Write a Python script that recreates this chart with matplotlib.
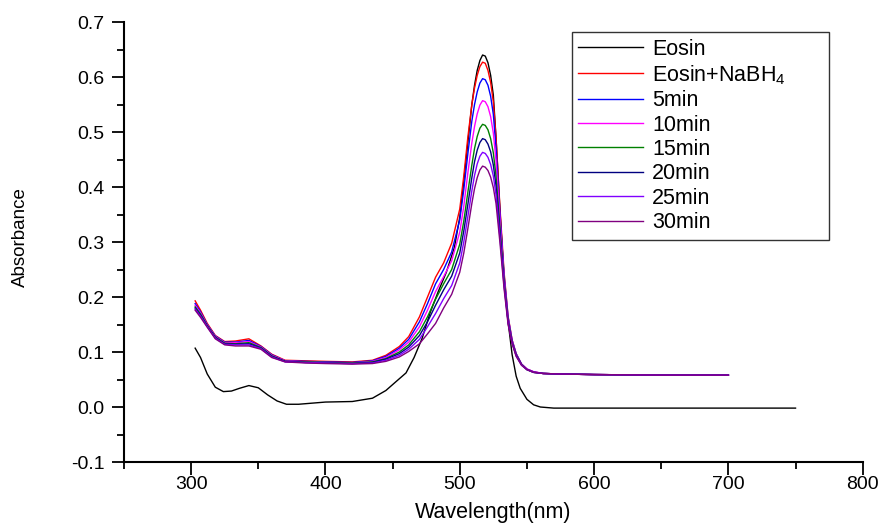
import matplotlib
matplotlib.use("Agg")
import matplotlib.pyplot as plt
from matplotlib.ticker import MultipleLocator, FormatStrFormatter

plt.rcParams['font.family'] = ['Liberation Sans', 'DejaVu Sans']
plt.rcParams['mathtext.fontset'] = 'custom'
plt.rcParams['mathtext.rm'] = 'Liberation Sans'
plt.rcParams['mathtext.it'] = 'Liberation Sans'

# Eosin alone
eosin_wl = [303, 307, 312, 318, 324, 330, 336, 343, 350, 357, 364, 371, 380, 400, 420, 435,
            445, 452, 460, 466, 472, 478, 484, 490, 496, 500, 503, 506, 509, 511, 513, 515,
            517, 519, 521, 523, 525, 527, 530, 533, 536, 539, 542, 545, 550, 555, 560, 570,
            600, 650, 700, 750]
eosin = [0.107, 0.090, 0.060, 0.036, 0.028, 0.029, 0.034, 0.039, 0.035, 0.022, 0.011, 0.005,
         0.005, 0.009, 0.010, 0.016, 0.030, 0.045, 0.062, 0.090, 0.125, 0.172, 0.210, 0.245,
         0.290, 0.345, 0.410, 0.480, 0.550, 0.585, 0.612, 0.630, 0.640, 0.638, 0.626, 0.603,
         0.567, 0.490, 0.355, 0.232, 0.155, 0.095, 0.056, 0.034, 0.014, 0.004, 0.000, -0.002,
         -0.002, -0.002, -0.002, -0.002]

# Eosin + NaBH4 series (common wavelength grid)
wl = [303, 307, 312, 318, 325, 333, 343, 352, 360, 370, 385, 400, 420, 435, 445, 455, 462,
      470, 476, 482, 488, 494, 500, 503, 506, 509, 511, 513, 515, 517, 519, 521, 523, 525,
      527, 530, 533, 536, 539, 542, 546, 550, 555, 562, 575, 600, 650, 700]

nabh4 = [0.193, 0.176, 0.152, 0.130, 0.119, 0.120, 0.124, 0.111, 0.096, 0.085, 0.084, 0.083,
         0.082, 0.085, 0.094, 0.110, 0.128, 0.164, 0.200, 0.236, 0.262, 0.298,
         0.360, 0.420, 0.490, 0.550, 0.580, 0.603, 0.619, 0.627, 0.625, 0.612, 0.590, 0.555,
         0.490, 0.360, 0.245, 0.165, 0.122, 0.097,
         0.078, 0.069, 0.064, 0.061, 0.060, 0.059, 0.058, 0.058]
min5 = [0.188, 0.173, 0.150, 0.129, 0.118, 0.118, 0.121, 0.110, 0.095, 0.084, 0.083, 0.082,
        0.081, 0.084, 0.092, 0.107, 0.123, 0.155, 0.188, 0.224, 0.250, 0.282,
        0.340, 0.395, 0.460, 0.520, 0.550, 0.573, 0.589, 0.597, 0.595, 0.585, 0.565, 0.532,
        0.472, 0.350, 0.240, 0.163, 0.121, 0.097,
        0.078, 0.069, 0.064, 0.061, 0.060, 0.059, 0.058, 0.058]
min10 = [0.185, 0.171, 0.149, 0.128, 0.117, 0.117, 0.119, 0.109, 0.094, 0.084, 0.082, 0.081,
         0.080, 0.083, 0.090, 0.104, 0.118, 0.146, 0.176, 0.210, 0.237, 0.266,
         0.318, 0.365, 0.425, 0.480, 0.510, 0.533, 0.549, 0.557, 0.555, 0.546, 0.528, 0.498,
         0.448, 0.338, 0.234, 0.160, 0.120, 0.096,
         0.078, 0.069, 0.064, 0.061, 0.060, 0.059, 0.058, 0.058]
min15 = [0.182, 0.169, 0.148, 0.127, 0.116, 0.115, 0.117, 0.108, 0.093, 0.083, 0.082, 0.081,
         0.080, 0.082, 0.088, 0.100, 0.113, 0.137, 0.164, 0.196, 0.224, 0.250,
         0.296, 0.338, 0.390, 0.440, 0.470, 0.492, 0.507, 0.514, 0.512, 0.504, 0.488, 0.462,
         0.420, 0.324, 0.228, 0.157, 0.118, 0.095,
         0.077, 0.068, 0.063, 0.061, 0.060, 0.059, 0.058, 0.058]
min20 = [0.180, 0.167, 0.147, 0.126, 0.115, 0.114, 0.115, 0.107, 0.092, 0.083, 0.081, 0.080,
         0.079, 0.081, 0.087, 0.097, 0.109, 0.130, 0.155, 0.185, 0.213, 0.238,
         0.280, 0.320, 0.368, 0.417, 0.446, 0.467, 0.481, 0.488, 0.486, 0.478, 0.464, 0.440,
         0.402, 0.315, 0.224, 0.155, 0.117, 0.094,
         0.077, 0.068, 0.063, 0.061, 0.060, 0.059, 0.058, 0.058]
min25 = [0.178, 0.165, 0.146, 0.125, 0.114, 0.113, 0.113, 0.106, 0.091, 0.082, 0.081, 0.080,
         0.079, 0.080, 0.085, 0.094, 0.105, 0.123, 0.146, 0.170, 0.197, 0.221,
         0.262, 0.300, 0.346, 0.393, 0.421, 0.442, 0.456, 0.463, 0.461, 0.454, 0.441, 0.420,
         0.386, 0.306, 0.220, 0.153, 0.116, 0.093,
         0.076, 0.068, 0.063, 0.061, 0.060, 0.059, 0.058, 0.058]
min30 = [0.176, 0.163, 0.145, 0.124, 0.113, 0.111, 0.111, 0.105, 0.090, 0.082, 0.080, 0.079,
         0.078, 0.079, 0.083, 0.091, 0.101, 0.115, 0.133, 0.152, 0.180, 0.205,
         0.245, 0.280, 0.324, 0.370, 0.397, 0.417, 0.431, 0.438, 0.436, 0.430, 0.418, 0.399,
         0.370, 0.297, 0.215, 0.150, 0.115, 0.092,
         0.076, 0.068, 0.063, 0.061, 0.060, 0.059, 0.058, 0.058]

labels = ['Eosin', 'Eosin+NaBH$_4$', '5min', '10min', '15min', '20min', '25min', '30min']
colors = ['#000000', '#ff0000', '#0000ff', '#ff00ff', '#008000', '#000080', '#8000ff', '#800080']

fig = plt.figure(figsize=(8.83, 5.24), dpi=100)
ax = fig.add_axes([0.1404, 0.1183, 0.8366, 0.8397])

ax.plot(eosin_wl, eosin, color=colors[0], lw=1.0, label=labels[0])
for ys, c, lab in zip([nabh4, min5, min10, min15, min20, min25, min30], colors[1:], labels[1:]):
    ax.plot(wl, ys, color=c, lw=1.0, label=lab)

ax.set_xlim(250, 800)
ax.set_ylim(-0.1, 0.7)
ax.xaxis.set_major_locator(MultipleLocator(100))
ax.xaxis.set_minor_locator(MultipleLocator(50))
ax.yaxis.set_major_locator(MultipleLocator(0.1))
ax.yaxis.set_minor_locator(MultipleLocator(0.05))
ax.yaxis.set_major_formatter(FormatStrFormatter('%.1f'))

for s in ['top', 'right']:
    ax.spines[s].set_visible(False)
for s in ['left', 'bottom']:
    ax.spines[s].set_linewidth(1.5)
ax.tick_params(which='major', direction='out', length=9, width=1.3, labelsize=14)
ax.tick_params(which='minor', direction='out', length=5, width=1.3)
ax.tick_params(axis='x', which='major', pad=1)
ax.tick_params(axis='y', which='major', pad=5)

ax.set_xlabel('Wavelength(nm)', fontsize=15.5)
ax.xaxis.set_label_coords(0.5, -0.091)
ax.set_ylabel('Absorbance', fontsize=13.5)
ax.yaxis.set_label_coords(-0.129, 0.511)

leg = ax.legend(loc='upper left', bbox_to_anchor=(0.606, 0.509, 0.348, 0.468), mode='expand',
                frameon=True, fancybox=False, edgecolor='black', fontsize=15.5,
                handlelength=3.0, handletextpad=0.45, labelspacing=0.16,
                borderpad=0.3, borderaxespad=0)
leg.get_frame().set_linewidth(1.0)

fig.savefig('out.png', dpi=100)
